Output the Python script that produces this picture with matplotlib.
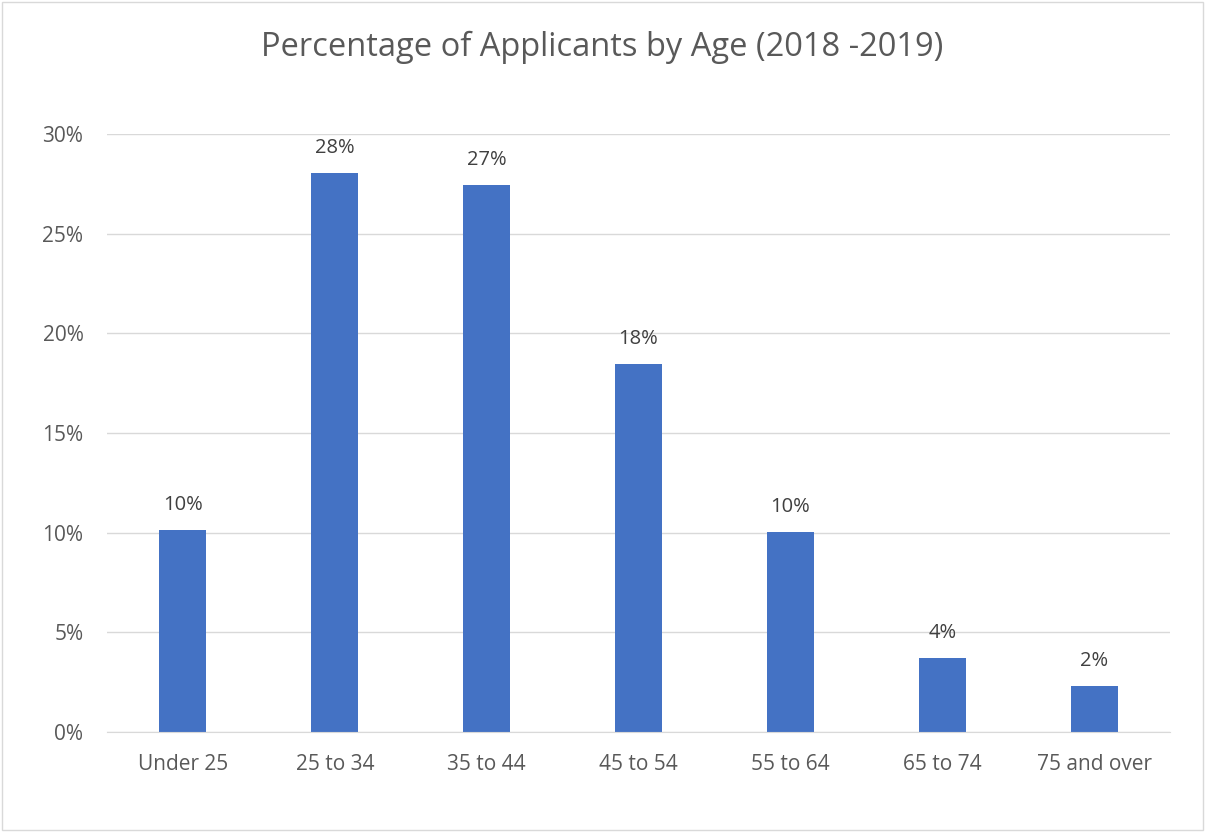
import matplotlib
matplotlib.use("Agg")
import matplotlib.pyplot as plt
from matplotlib.patches import Rectangle

categories = ["Under 25", "25 to 34", "35 to 44", "45 to 54", "55 to 64", "65 to 74", "75 and over"]
values = [10.13, 28.05, 27.45, 18.46, 10.03, 3.71, 2.31]
yticks = [0, 5, 10, 15, 20, 25, 30]
title = "Percentage of Applicants by Age (2018 -2019)"

plt.rcParams['font.family'] = ['Open Sans', 'DejaVu Sans']
fig = plt.figure(figsize=(12.05, 8.32), dpi=100)
ax = fig.add_axes([107/1205, 1-732/832, (1170-107)/1205, (732-134)/832])

x = list(range(len(categories)))
ax.bar(x, values, width=0.31, color="#4472C4", zorder=3)
for xi, v in zip(x, values):
    ax.annotate(f"{round(v):.0f}%", (xi, v), xytext=(0, 11), textcoords="offset points",
                ha="center", va="bottom", fontsize=14.5, color="#404040")

ax.set_xlim(-0.5, len(categories) - 0.5)
ax.set_ylim(0, 30)
ax.set_yticks(yticks)
ax.set_yticklabels([f"{t}%" for t in yticks])
ax.set_xticks(x)
ax.set_xticklabels(categories)
ax.tick_params(axis="both", length=0, labelsize=15, colors="#595959")
ax.tick_params(axis="y", pad=17)
ax.tick_params(axis="x", pad=15.5)
ax.grid(axis="y", color="#d9d9d9", linewidth=1, zorder=0)
for s in ["top", "right", "left"]:
    ax.spines[s].set_visible(False)
ax.spines["bottom"].set_color("#d9d9d9")
ax.spines["bottom"].set_zorder(4)

fig.text(0.5, 1-47/832, title, ha="center", va="center", fontsize=23.5, color="#595959")
fig.patches.append(Rectangle((0.002, 0.002), 0.996, 0.996, transform=fig.transFigure,
                             fill=False, edgecolor="#d9d9d9", linewidth=1))
fig.savefig("out.png", dpi=100)
